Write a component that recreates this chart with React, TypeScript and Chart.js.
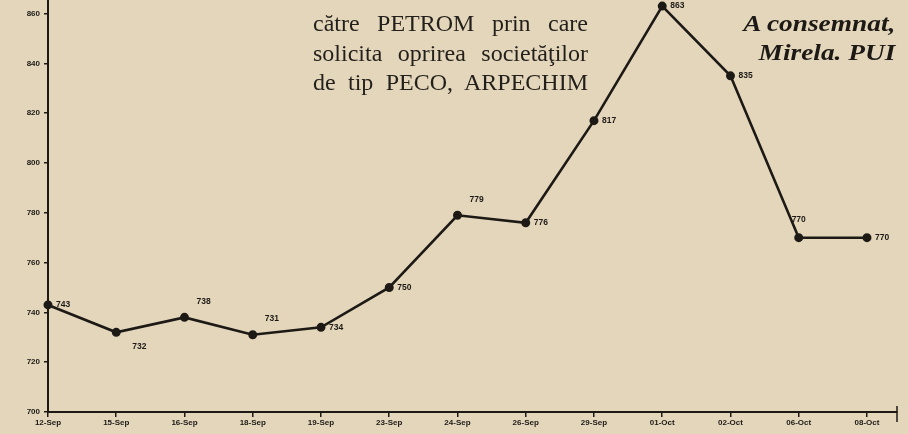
import React, { useEffect, useRef } from "react";
import { Chart, registerables } from "chart.js";

Chart.register(...registerables);

const categories = [
  "12-Sep", "15-Sep", "16-Sep", "18-Sep", "19-Sep", "23-Sep", "24-Sep",
  "26-Sep", "29-Sep", "01-Oct", "02-Oct", "06-Oct", "08-Oct",
];
const prices = [743, 732, 738, 731, 734, 750, 779, 776, 817, 863, 835, 770, 770];
const yTicks = [700, 720, 740, 760, 780, 800, 820, 840, 860];
// where each value label sits relative to its point
const labelAnchors = ["r", "br", "ar", "ar", "r", "r", "ar", "r", "r", "r", "r", "a", "r"];

const noteLines = ["către PETROM prin care", "solicita oprirea societăţilor", "de tip PECO, ARPECHIM"];
const signLines = ["A consemnat,", "Mirela. PUI"];

const INK = "#1d1a16";
const BG = "#e3d6bb";

const labelPlugin = {
  id: "valueLabels",
  afterDatasetsDraw(chart: any) {
    const ctx = chart.ctx;
    const meta = chart.getDatasetMeta(0);
    ctx.save();
    ctx.fillStyle = INK;
    ctx.font = "bold 8.5px 'Liberation Sans', Arial, sans-serif";
    ctx.textBaseline = "middle";
    meta.data.forEach((pt: any, i: number) => {
      const a = labelAnchors[i];
      let dx = 8, dy = 0, align: CanvasTextAlign = "left";
      if (a === "br") { dx = 16; dy = 14; }
      if (a === "ar") { dx = 12; dy = -16; }
      if (a === "a") { dx = 0; dy = -18; align = "center"; }
      ctx.textAlign = align;
      ctx.fillText(String(prices[i]), pt.x + dx, pt.y + dy);
    });
    // end mark of x axis
    const area = chart.chartArea;
    ctx.strokeStyle = INK;
    ctx.lineWidth = 1.5;
    ctx.beginPath();
    ctx.moveTo(area.right, area.bottom - 6);
    ctx.lineTo(area.right, area.bottom + 10);
    ctx.stroke();
    // y axis continues to the top edge
    ctx.lineWidth = 2;
    ctx.beginPath();
    ctx.moveTo(area.left, 0);
    ctx.lineTo(area.left, area.top);
    ctx.stroke();
    ctx.restore();
  },
};

export default function App() {
  const ref = useRef<HTMLCanvasElement | null>(null);

  useEffect(() => {
    document.body.style.margin = "0";
    document.body.style.background = BG;
    const canvas = ref.current!;
    const chart = new Chart(canvas, {
      type: "line",
      data: {
        datasets: [
          {
            data: prices.map((v, i) => ({ x: i, y: v })),
            borderColor: INK,
            backgroundColor: INK,
            borderWidth: 2.6,
            pointRadius: 3.2,
            pointBackgroundColor: INK,
            pointBorderColor: INK,
            tension: 0,
            clip: false as any,
          },
        ],
      },
      options: {
        responsive: false,
        animation: false,
        layout: { padding: { left: 0, right: 11, top: 0, bottom: 0 } },
        plugins: { legend: { display: false }, tooltip: { enabled: false } },
        scales: {
          x: {
            type: "linear",
            min: 0,
            max: 12.44,
            afterBuildTicks: (s: any) => {
              s.ticks = categories.map((_, i) => ({ value: i }));
            },
            afterFit: (s: any) => {
              s.height = 22;
              s.paddingLeft = 0;
              s.paddingRight = 0;
            },
            ticks: {
              autoSkip: false,
              maxRotation: 0,
              padding: 1,
              color: INK,
              font: { size: 8, weight: "bold", family: "'Liberation Sans', Arial, sans-serif" },
              callback: (v: any) => categories[v] ?? "",
            },
            grid: { drawOnChartArea: false, tickLength: 5, color: INK, lineWidth: 1.5 },
            border: { color: INK, width: 2 },
          },
          y: {
            type: "linear",
            min: 700,
            max: 862.8,
            afterBuildTicks: (s: any) => {
              s.ticks = yTicks.map((v) => ({ value: v }));
            },
            afterFit: (s: any) => {
              s.width = 48;
              s.paddingTop = 0;
              s.paddingBottom = 0;
            },
            ticks: {
              padding: 4,
              color: INK,
              font: { size: 8, weight: "bold", family: "'Liberation Sans', Arial, sans-serif" },
            },
            grid: { drawOnChartArea: false, tickLength: 4, color: INK, lineWidth: 1.5 },
            border: { color: INK, width: 2 },
          },
        },
      },
      plugins: [labelPlugin],
    });
    return () => chart.destroy();
  }, []);

  return (
    <div style={{ position: "absolute", left: 0, top: 0, width: 908, height: 434, background: BG, overflow: "hidden" }}>
      <canvas ref={ref} width={908} height={434} style={{ position: "absolute", left: 0, top: 0 }} />
      <div
        style={{
          position: "absolute",
          left: 313,
          top: 9,
          width: 275,
          fontFamily: "'Liberation Serif', 'Times New Roman', serif",
          fontSize: 24,
          lineHeight: "29.5px",
          color: "#231f1a",
        }}
      >
        {noteLines.map((t, i) => (
          <div key={i} style={{ textAlign: "justify", textAlignLast: "justify", whiteSpace: "nowrap" }}>{t}</div>
        ))}
      </div>
      <div
        style={{
          position: "absolute",
          right: 13,
          top: 9,
          textAlign: "right",
          fontFamily: "'Liberation Serif', 'Times New Roman', serif",
          fontSize: 24,
          fontWeight: "bold",
          fontStyle: "italic",
          lineHeight: "29px",
          color: "#1d1a16",
          transform: "scaleX(1.14)",
          transformOrigin: "right top",
        }}
      >
        {signLines.map((t, i) => (
          <div key={i}>{t}</div>
        ))}
      </div>
    </div>
  );
}
